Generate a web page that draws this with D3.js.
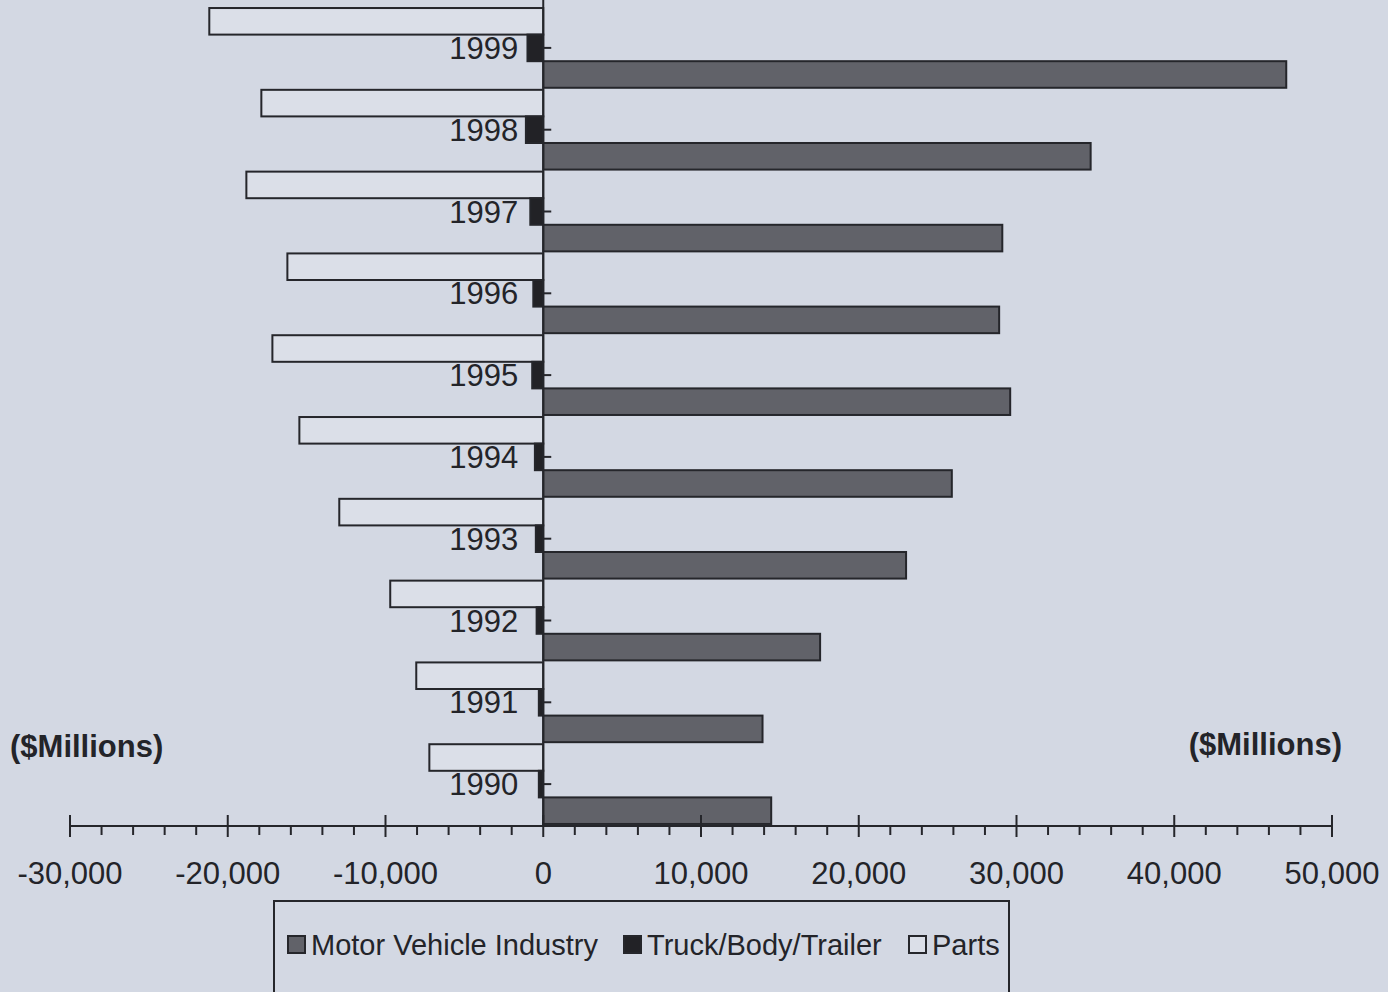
<!DOCTYPE html>
<html>
<head>
<meta charset="utf-8">
<script src="https://cdn.jsdelivr.net/npm/d3@7"></script>
<style>
  html, body { margin: 0; padding: 0; background: #d3d8e3; }
  svg { display: block; }
  text { font-family: "Liberation Sans", Arial, sans-serif; fill: #232429; }
</style>
</head>
<body>
<svg id="chart" width="1388" height="992"></svg>
<script>
// ---- data ----
const years = ["1999", "1998", "1997", "1996", "1995", "1994", "1993", "1992", "1991", "1990"];
const seriesNames = ["Parts", "Truck/Body/Trailer", "Motor Vehicle Industry"];
const motorVehicle = [47100, 34700, 29100, 28900, 29600, 25900, 23000, 17550, 13900, 14450];
const truckBodyTrailer = [-1000, -1100, -820, -630, -700, -530, -470, -420, -280, -280];
const parts = [-21170, -17870, -18820, -16220, -17170, -15460, -12930, -9700, -8050, -7220];
const xTicksMajor = [-30000, -20000, -10000, 0, 10000, 20000, 30000, 40000, 50000];
const legendOrder = ["Motor Vehicle Industry", "Truck/Body/Trailer", "Parts"];

const seriesValues = {
  "Parts": parts,
  "Truck/Body/Trailer": truckBodyTrailer,
  "Motor Vehicle Industry": motorVehicle
};
const fills = {
  "Motor Vehicle Industry": "#616269",
  "Truck/Body/Trailer": "#222226",
  "Parts": "#dbdfe8"
};
const ink = "#25262b";

const svg = d3.select("#chart");

const x = d3.scaleLinear().domain([-30000, 50000]).range([70, 1332]);
const y = d3.scaleBand().domain(years).range([7, 825]).paddingInner(0.025).paddingOuter(0.0125);
const ys = d3.scaleBand().domain(seriesNames).range([0, y.bandwidth()]);

const axisY = 826;

// bars
const groups = svg.append("g").selectAll("g")
  .data(years)
  .join("g")
  .attr("transform", d => `translate(0,${y(d)})`);

groups.selectAll("rect")
  .data((yr, i) => seriesNames.map(s => ({ s, v: seriesValues[s][i] })))
  .join("rect")
  .attr("x", d => Math.min(x(0), x(d.v)))
  .attr("width", d => Math.abs(x(d.v) - x(0)))
  .attr("y", d => ys(d.s))
  .attr("height", ys.bandwidth())
  .attr("fill", d => fills[d.s])
  .attr("stroke", ink)
  .attr("stroke-width", 2);

// vertical zero line (category axis)
svg.append("line")
  .attr("x1", x(0)).attr("x2", x(0))
  .attr("y1", 0).attr("y2", axisY)
  .attr("stroke", ink).attr("stroke-width", 2);

// category ticks and labels
const catAxis = svg.append("g");
years.forEach(yr => {
  const cy = y(yr) + y.bandwidth() / 2;
  catAxis.append("line")
    .attr("x1", x(0)).attr("x2", x(0) + 8)
    .attr("y1", cy).attr("y2", cy)
    .attr("stroke", ink).attr("stroke-width", 2);
  catAxis.append("text")
    .attr("x", x(0) - 25)
    .attr("y", cy + 11)
    .attr("text-anchor", "end")
    .attr("font-size", 31)
    .text(yr);
});

// x axis
const xAxisG = svg.append("g");
xAxisG.append("line")
  .attr("x1", x(-30000)).attr("x2", x(50000))
  .attr("y1", axisY).attr("y2", axisY)
  .attr("stroke", ink).attr("stroke-width", 2);

const minorTicks = d3.range(-30000, 50001, 2000).filter(v => v % 10000 !== 0);
xAxisG.selectAll("line.minor")
  .data(minorTicks)
  .join("line")
  .attr("class", "minor")
  .attr("x1", d => x(d)).attr("x2", d => x(d))
  .attr("y1", axisY).attr("y2", axisY + 9)
  .attr("stroke", ink).attr("stroke-width", 2);

xAxisG.selectAll("line.major")
  .data(xTicksMajor)
  .join("line")
  .attr("class", "major")
  .attr("x1", d => x(d)).attr("x2", d => x(d))
  .attr("y1", axisY - 11).attr("y2", axisY + 11)
  .attr("stroke", ink).attr("stroke-width", 2);

const fmt = d3.format(",");
xAxisG.selectAll("text")
  .data(xTicksMajor)
  .join("text")
  .attr("x", d => x(d))
  .attr("y", 884)
  .attr("text-anchor", "middle")
  .attr("font-size", 31)
  .text(d => fmt(d).replace("\u2212", "-"));

// unit labels
svg.append("text")
  .attr("x", 10).attr("y", 757)
  .attr("font-size", 31).attr("font-weight", "bold")
  .text("($Millions)");
svg.append("text")
  .attr("x", 1342).attr("y", 755)
  .attr("text-anchor", "end")
  .attr("font-size", 31).attr("font-weight", "bold")
  .text("($Millions)");

// legend
const lg = svg.append("g");
lg.append("rect")
  .attr("x", 274).attr("y", 901)
  .attr("width", 735).attr("height", 110)
  .attr("fill", "none")
  .attr("stroke", ink).attr("stroke-width", 2);

const legendX = { "Motor Vehicle Industry": 288, "Truck/Body/Trailer": 624, "Parts": 909 };
legendOrder.forEach(s => {
  lg.append("rect")
    .attr("x", legendX[s]).attr("y", 936)
    .attr("width", 17).attr("height", 17)
    .attr("fill", fills[s])
    .attr("stroke", ink).attr("stroke-width", 2);
  lg.append("text")
    .attr("x", legendX[s] + 23)
    .attr("y", 955)
    .attr("font-size", 29)
    .text(s);
});
</script>
</body>
</html>
